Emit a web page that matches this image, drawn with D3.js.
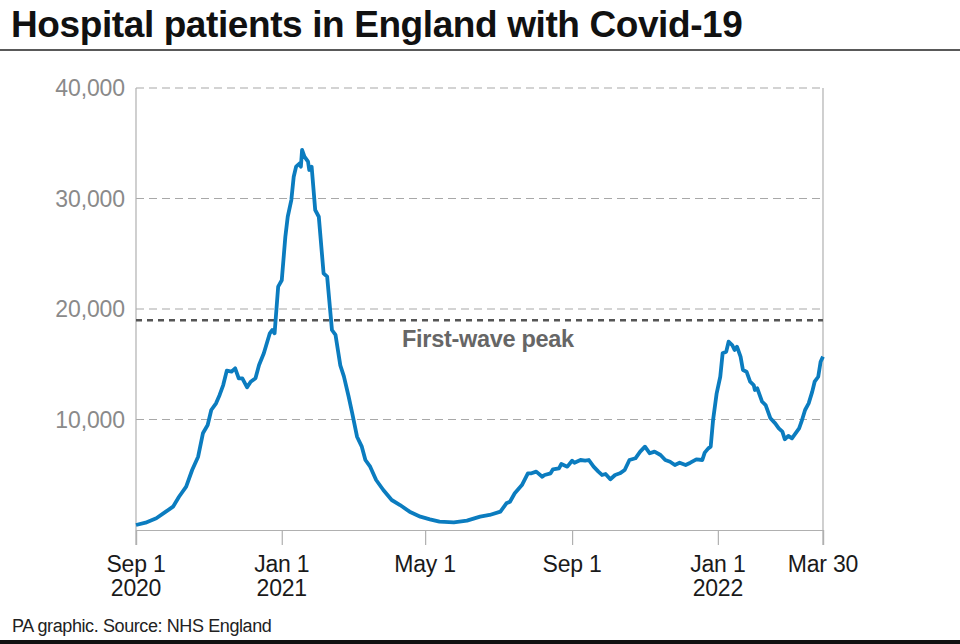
<!DOCTYPE html>
<html>
<head>
<meta charset="utf-8">
<script src="https://cdn.jsdelivr.net/npm/d3@7"></script>
<style>
  body { margin: 0; background: #fff; }
  text { font-family: "Liberation Sans", Arial, sans-serif; }
</style>
</head>
<body>
<div class="graphics"></div>
<script>
// hospital patients
var dates = [
  "2020-09-01","2020-09-09","2020-09-18","2020-09-26","2020-10-02","2020-10-07","2020-10-13","2020-10-18",
  "2020-10-23","2020-10-27","2020-10-31","2020-11-03","2020-11-07","2020-11-10","2020-11-13","2020-11-16",
  "2020-11-20","2020-11-23","2020-11-26","2020-11-29","2020-12-03","2020-12-06","2020-12-10","2020-12-13",
  "2020-12-17","2020-12-22","2020-12-24","2020-12-26","2020-12-29","2021-01-01","2021-01-04","2021-01-06",
  "2021-01-09","2021-01-11","2021-01-13","2021-01-16","2021-01-17","2021-01-18","2021-01-20","2021-01-23",
  "2021-01-24","2021-01-26","2021-01-29","2021-02-01","2021-02-05","2021-02-08","2021-02-12","2021-02-15",
  "2021-02-19","2021-02-22","2021-02-26","2021-03-01","2021-03-05","2021-03-09","2021-03-12","2021-03-16",
  "2021-03-21","2021-03-27","2021-04-03","2021-04-10","2021-04-18","2021-04-27","2021-05-05","2021-05-13",
  "2021-05-25","2021-06-05","2021-06-16","2021-06-24","2021-07-03","2021-07-08","2021-07-11","2021-07-15",
  "2021-07-21","2021-07-26","2021-07-29","2021-08-02","2021-08-07","2021-08-09","2021-08-14","2021-08-16",
  "2021-08-21","2021-08-23","2021-08-28","2021-09-01","2021-09-03","2021-09-08","2021-09-12","2021-09-15",
  "2021-09-19","2021-09-23","2021-09-26","2021-09-29","2021-10-03","2021-10-07","2021-10-11","2021-10-15",
  "2021-10-19","2021-10-24","2021-10-28","2021-11-01","2021-11-05","2021-11-09","2021-11-14","2021-11-18",
  "2021-11-22","2021-11-26","2021-11-30","2021-12-05","2021-12-09","2021-12-14","2021-12-19","2021-12-21",
  "2021-12-24","2021-12-26","2021-12-28","2021-12-31","2022-01-03","2022-01-05","2022-01-08","2022-01-10",
  "2022-01-13","2022-01-15","2022-01-17","2022-01-20","2022-01-22","2022-01-25","2022-01-28","2022-01-31",
  "2022-02-01","2022-02-03","2022-02-07","2022-02-10","2022-02-14","2022-02-18","2022-02-21","2022-02-24",
  "2022-02-26","2022-03-01","2022-03-04","2022-03-07","2022-03-10","2022-03-12","2022-03-15","2022-03-18",
  "2022-03-21","2022-03-23","2022-03-26","2022-03-28","2022-03-30"
];
var patients = [
  450, 660, 1060, 1660, 2110, 3010, 3920, 5430,
  6630, 8750, 9500, 10860, 11460, 12220, 13120, 14420,
  14330, 14630, 13730, 13730, 12910, 13420, 13730, 14930,
  15990, 17800, 18100, 17800, 22020, 22600, 26540, 28350,
  29860, 31970, 32880, 33180, 32880, 34390, 33780, 33330,
  32580, 32880, 28960, 28350, 23230, 22920, 18100, 17650,
  14900, 13900, 12060, 10560, 8440, 7540, 6335, 5730,
  4525, 3620, 2715, 2260, 1660, 1205, 965, 755,
  695, 845, 1205, 1360, 1660, 2415, 2560, 3320,
  4070, 5130, 5130, 5280, 4825, 4980, 5130, 5490,
  5580, 5970, 5730, 6270, 6090, 6335, 6270, 6335,
  5730, 5280, 4980, 5070, 4590, 4980, 5130, 5430,
  6335, 6490, 7090, 7540, 6940, 7090, 6790, 6335,
  6180, 5880, 6090, 5880, 6090, 6400, 6335, 7000,
  7390, 7540, 9955, 12370, 13870, 15990, 16140, 17040,
  16740, 16290, 16590, 15685, 14480, 14330, 13420, 13120,
  12670, 12820, 11610, 11310, 10110, 9650, 9200, 8900,
  8210, 8510, 8300, 8750, 9200, 9800, 10860, 11460,
  12520, 13420, 13870, 15230, 15685
];
var firstWavePeak = 18974;
var yTicks = [10000, 20000, 30000, 40000];
var xTickDates = ["2020-09-01", "2021-01-01", "2021-05-01", "2021-09-01", "2022-01-01", "2022-03-30"];
var xTickLines = [["Sep 1", "2020"], ["Jan 1", "2021"], ["May 1"], ["Sep 1"], ["Jan 1", "2022"], ["Mar 30"]];

var parse = d3.timeParse("%Y-%m-%d");
var data = dates.map(function(d, i){ return {date: parse(d), value: patients[i]}; });

var W = 960, H = 644;
var mLeft = 136, mRight = 823, mTop = 88, mBottom = 530;

var svg = d3.select(".graphics").append("svg")
    .attr("width", W)
    .attr("height", H);

var x = d3.scaleTime()
    .domain([parse("2020-09-01"), parse("2022-03-30")])
    .range([mLeft, mRight]);
var y = d3.scaleLinear()
    .domain([0, 40000])
    .range([mBottom, mTop]);

// title + rules
svg.append("text")
    .attr("x", 11).attr("y", 37)
    .style("font-size", "37px").style("font-weight", "bold")
    .style("letter-spacing", "-0.4px")
    .attr("fill", "#111")
    .text("Hospital patients in England with Covid-19");
svg.append("line").attr("x1", 0).attr("x2", W).attr("y1", 50).attr("y2", 50)
    .attr("stroke", "#222").attr("stroke-width", 1.5);
svg.append("rect").attr("x", 0).attr("y", 640).attr("width", W).attr("height", 4).attr("fill", "#111");

// gridlines
svg.selectAll(".grid").data(yTicks).enter().append("line")
    .attr("class", "grid")
    .attr("x1", mLeft).attr("x2", mRight)
    .attr("y1", function(d){ return y(d); })
    .attr("y2", function(d){ return y(d); })
    .attr("stroke", "#a8a8a8").attr("stroke-width", 1.2)
    .attr("stroke-dasharray", "8,5");

svg.selectAll(".ylab").data(yTicks).enter().append("text")
    .attr("class", "ylab")
    .attr("x", 125)
    .attr("y", function(d){ return y(d) + 8; })
    .attr("text-anchor", "end")
    .style("font-size", "23px").style("letter-spacing", "-0.1px")
    .attr("fill", "#8a8a8a")
    .text(function(d){ return d3.format(",")(d); });

// frame lines
svg.append("line").attr("x1", mLeft).attr("x2", mLeft).attr("y1", mTop).attr("y2", mBottom + 15)
    .attr("stroke", "#b0b0b0").attr("stroke-width", 1.2);
svg.append("line").attr("x1", mRight).attr("x2", mRight).attr("y1", mTop).attr("y2", mBottom + 15)
    .attr("stroke", "#b0b0b0").attr("stroke-width", 1.2);

// x axis
var xAxis = d3.axisBottom(x)
    .tickValues(xTickDates.map(parse))
    .tickSize(15)
    .tickFormat("");
var gx = svg.append("g")
    .attr("transform", "translate(0," + mBottom + ")")
    .call(xAxis);
gx.select(".domain").attr("stroke", "#b0b0b0").attr("stroke-width", 1.2);
gx.selectAll(".tick line").attr("stroke", "#b0b0b0").attr("stroke-width", 1.2);

svg.selectAll(".xlab").data(xTickDates).enter().append("text")
    .attr("class", "xlab")
    .attr("x", function(d){ return x(parse(d)); })
    .attr("y", 572)
    .attr("text-anchor", "middle")
    .style("font-size", "23px").style("letter-spacing", "-0.2px")
    .attr("fill", "#1a1a1a")
    .each(function(d, i){
        var t = d3.select(this);
        xTickLines[i].forEach(function(s, j){
            t.append("tspan").attr("x", x(parse(d))).attr("dy", j === 0 ? 0 : 24).text(s);
        });
    });

// first wave peak
svg.append("line")
    .attr("x1", mLeft).attr("x2", mRight)
    .attr("y1", y(firstWavePeak)).attr("y2", y(firstWavePeak))
    .attr("stroke", "#555").attr("stroke-width", 2.5)
    .attr("stroke-dasharray", "6,5");
svg.append("text")
    .attr("x", 402).attr("y", 347)
    .style("font-size", "23.5px").style("font-weight", "bold")
    .style("letter-spacing", "-0.3px")
    .attr("fill", "#666")
    .text("First-wave peak");

// the line
var line = d3.line()
    .x(function(d){ return x(d.date); })
    .y(function(d){ return y(d.value); });
svg.append("path")
    .datum(data)
    .attr("d", line)
    .attr("fill", "none")
    .attr("stroke", "#0b7cbf")
    .attr("stroke-width", 3.8)
    .attr("stroke-linejoin", "round");

// source
svg.append("text")
    .attr("x", 12).attr("y", 632)
    .style("font-size", "18px").style("letter-spacing", "-0.4px")
    .attr("fill", "#222")
    .text("PA graphic. Source: NHS England");
</script>
</body>
</html>
